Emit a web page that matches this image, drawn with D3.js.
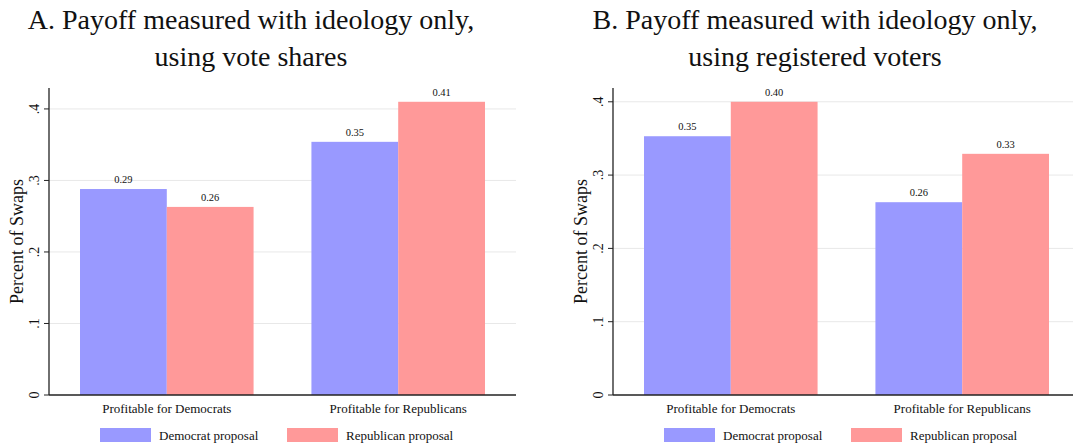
<!DOCTYPE html>
<html>
<head>
<meta charset="utf-8">
<script src="https://cdn.jsdelivr.net/npm/d3@7"></script>
<style>
  body { margin: 0; background: #fff; }
</style>
</head>
<body>
<script>
// data
const categories = ["Profitable for Democrats", "Profitable for Republicans"];
const seriesNames = ["Democrat proposal", "Republican proposal"];
const yTicks = [0, 0.1, 0.2, 0.3, 0.4];

const titlesA = ["A. Payoff measured with ideology only,", "using vote shares"];
const demA = [0.288, 0.354];
const repA = [0.263, 0.410];

const titlesB = ["B. Payoff measured with ideology only,", "using registered voters"];
const demB = [0.353, 0.263];
const repB = [0.400, 0.329];

const colors = ["#9999ff", "#ff9999"];

const W = 1073, H = 446;
const svg = d3.select("body").append("svg")
    .attr("width", W)
    .attr("height", H)
    .attr("font-family", "Liberation Serif");

// one panel, offset horizontally by dx
function drawPanel(dx, titles, dem, rep) {
    const left = 49, right = 516, top = 88, bottom = 395;
    const g = svg.append("g").attr("transform", "translate(" + dx + ",0)");

    const yMax = d3.max(dem.concat(rep)) * 1.047;
    const y = d3.scaleLinear().domain([0, yMax]).range([bottom, top]);

    const x0 = d3.scaleBand()
        .domain(categories)
        .range([left, right])
        .paddingInner(0.25)
        .paddingOuter(0.134);

    const x1 = d3.scaleBand()
        .domain(seriesNames)
        .range([0, x0.bandwidth()]);

    // title
    g.selectAll(".title")
        .data(titles)
        .enter().append("text")
        .attr("x", 251)
        .attr("y", (d, i) => 29 + i * 37)
        .attr("text-anchor", "middle")
        .attr("font-size", 28)
        .attr("fill", "#111")
        .text(d => d);

    // gridlines
    g.selectAll(".grid")
        .data(yTicks.filter(d => d > 0))
        .enter().append("line")
        .attr("x1", left).attr("x2", right)
        .attr("y1", d => y(d)).attr("y2", d => y(d))
        .attr("stroke", "#e8e8e8")
        .attr("stroke-width", 1);

    // bars
    const rows = categories.map((c, i) => ({cat: c, vals: [dem[i], rep[i]]}));
    const grp = g.selectAll(".grp")
        .data(rows)
        .enter().append("g")
        .attr("transform", d => "translate(" + x0(d.cat) + ",0)");

    grp.selectAll("rect")
        .data(d => d.vals.map((v, j) => ({name: seriesNames[j], v: v, j: j})))
        .enter().append("rect")
        .attr("x", d => x1(d.name))
        .attr("width", x1.bandwidth())
        .attr("y", d => y(d.v))
        .attr("height", d => bottom - y(d.v))
        .attr("fill", d => colors[d.j]);

    grp.selectAll(".val")
        .data(d => d.vals.map((v, j) => ({name: seriesNames[j], v: v})))
        .enter().append("text")
        .attr("x", d => x1(d.name) + x1.bandwidth() / 2)
        .attr("y", d => y(d.v) - 6)
        .attr("text-anchor", "middle")
        .attr("font-size", 10.5)
        .attr("fill", "#111")
        .text(d => d3.format(".2f")(d.v));

    // y axis
    g.append("line")
        .attr("x1", left).attr("x2", left)
        .attr("y1", top).attr("y2", bottom)
        .attr("stroke", "#222").attr("stroke-width", 1.3);

    g.selectAll(".tick")
        .data(yTicks)
        .enter().append("line")
        .attr("x1", left - 5).attr("x2", left)
        .attr("y1", d => y(d)).attr("y2", d => y(d))
        .attr("stroke", "#222");

    g.selectAll(".tlab")
        .data(yTicks)
        .enter().append("text")
        .attr("transform", d => "translate(" + (left - 10) + "," + y(d) + ") rotate(-90)")
        .attr("text-anchor", "middle")
        .attr("font-size", 14)
        .attr("fill", "#111")
        .text(d => d === 0 ? "0" : d3.format(".1f")(d).replace(/^0/, ""));

    g.append("text")
        .attr("transform", "translate(" + (left - 26) + "," + ((top + bottom) / 2) + ") rotate(-90)")
        .attr("text-anchor", "middle")
        .attr("font-size", 18)
        .attr("fill", "#111")
        .text("Percent of Swaps");

    // x axis
    g.append("line")
        .attr("x1", left).attr("x2", right)
        .attr("y1", bottom).attr("y2", bottom)
        .attr("stroke", "#222").attr("stroke-width", 1.3);

    g.selectAll(".xlab")
        .data(categories)
        .enter().append("text")
        .attr("x", d => x0(d) + x0.bandwidth() / 2)
        .attr("y", 413)
        .attr("text-anchor", "middle")
        .attr("font-size", 13)
        .attr("fill", "#111")
        .text(d => d);

    // legend
    const leg = g.selectAll(".leg")
        .data(seriesNames)
        .enter().append("g")
        .attr("transform", (d, i) => "translate(" + (100 + i * 187) + ",428)");
    leg.append("rect")
        .attr("width", 51).attr("height", 14)
        .attr("fill", (d, i) => colors[i]);
    leg.append("text")
        .attr("x", 59).attr("y", 12)
        .attr("font-size", 13)
        .attr("fill", "#111")
        .text(d => d);
}

drawPanel(0, titlesA, demA, repA);
drawPanel(564, titlesB, demB, repB);
</script>
</body>
</html>
